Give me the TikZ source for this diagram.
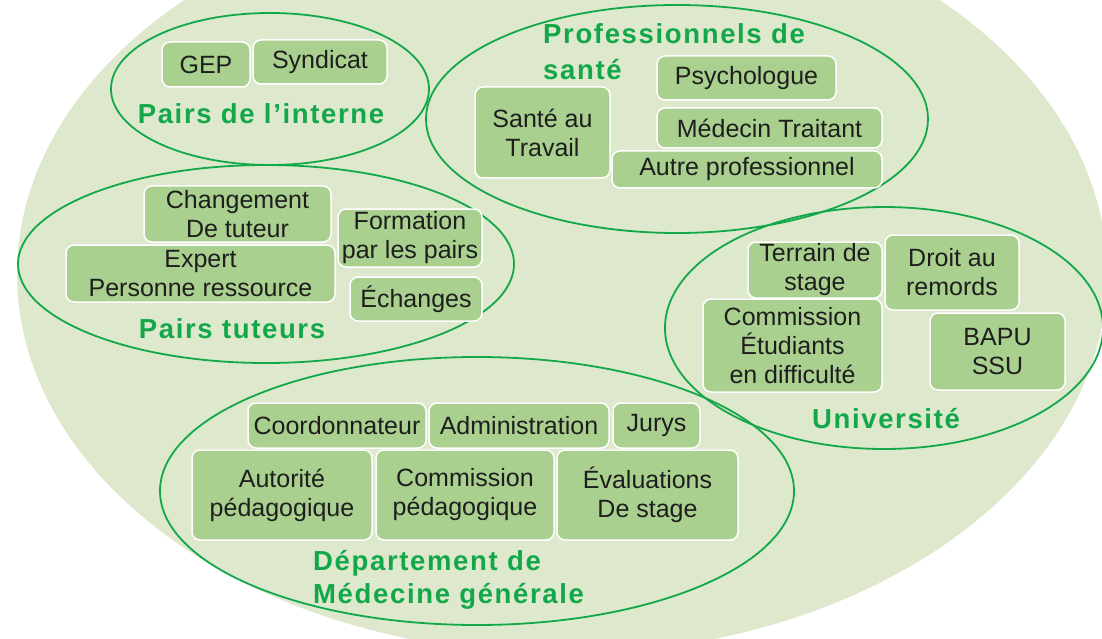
\documentclass[tikz,border=0pt]{standalone}
\usepackage{fontspec}
\setmainfont{Liberation Sans}
\newfontfamily\labfont[LetterSpace=6]{Liberation Sans}
\definecolor{bg}{HTML}{DEE8CC}
\definecolor{boxg}{HTML}{A9D08E}
\definecolor{lg}{HTML}{12A84A}
\definecolor{txt}{HTML}{1E1E1E}
\newcommand\bxn[6]{\node[bx, minimum width={#4-#2}, minimum height={#5-#3}] (#1) at ({(#2+#4)/2},{(#3+#5)/2}) {#6};}
\begin{document}
\begin{tikzpicture}[x=1pt,y=-1pt,
  bx/.style={draw=white, line width=1.5pt, fill=boxg, rounded corners=8pt, inner sep=0pt, align=center, text=txt, font=\fontsize{25}{29}\selectfont},
  grp/.style={draw=lg, line width=1.8pt},
  lab/.style={text=lg, font=\labfont\bfseries\fontsize{27.5}{33}\selectfont, inner sep=0pt}]
\useasboundingbox (0,0) rectangle (1102,639);
\begin{scope}
\clip (0,0) rectangle (1102,639);
\fill[bg] (562,274) ellipse [x radius=545, y radius=380];
\end{scope}
% groups
\draw[grp] (270,89) ellipse [x radius=159, y radius=76];
\draw[grp] (677,119) ellipse [x radius=251, y radius=114];
\draw[grp] (266,264) ellipse [x radius=248, y radius=99];
\draw[grp] (884,328) ellipse [x radius=219, y radius=121];
\draw[grp] (477,491) ellipse [x radius=317, y radius=134];
% labels
\node[lab, anchor=base] (lint) at (261,124) {Pairs de l’interne};
\node[lab, anchor=base west] (lprofa) at (543,44) {Professionnels de};
\node[lab, anchor=base west] (lprofb) at (543,80) {santé};
\node[lab, anchor=base] (ltut) at (232,338) {Pairs tuteurs};
\node[lab, anchor=base] (luniv) at (886,428) {Université};
\node[lab, anchor=base west] (ldepa) at (313,570) {Département de};
\node[lab, anchor=base west] (ldepb) at (313,603) {Médecine générale};
% boxes
\bxn{gep}{162}{42}{250}{87}{GEP}
\bxn{synd}{253}{40}{387}{84}{Syndicat}
\bxn{psy}{657}{56}{836}{100}{Psychologue}
\bxn{medt}{657}{108}{882}{148}{Médecin Traitant}
\bxn{sat}{475}{87}{610}{178}{Santé au\\Travail}
\bxn{autre}{612}{151}{882}{188}{Autre professionnel}
\bxn{chg}{144}{186}{331}{242}{Changement\\De tuteur}
\bxn{exp}{66}{245}{335}{302}{Expert\\Personne ressource}
\bxn{form}{338}{209}{482}{267}{Formation\\par les pairs}
\bxn{ech}{350}{277}{482}{321}{Échanges}
\bxn{terr}{748}{242}{882}{298}{Terrain de\\stage}
\bxn{droit}{885}{235}{1019}{310}{Droit au\\remords}
\bxn{comm}{703}{299}{882}{392}{Commission\\Étudiants\\en difficulté}
\bxn{bapu}{930}{313}{1065}{390}{BAPU\\SSU}
\bxn{coord}{248}{403}{426}{448}{Coordonnateur}
\bxn{admin}{429}{403}{609}{448}{Administration}
\bxn{jury}{613}{403}{700}{448}{Jurys}
\bxn{auto}{192}{450}{372}{540}{Autorité\\pédagogique}
\bxn{cped}{376}{450}{554}{540}{Commission\\pédagogique}
\bxn{eval}{557}{450}{738}{540}{Évaluations\\De stage}
\end{tikzpicture}
\end{document}
